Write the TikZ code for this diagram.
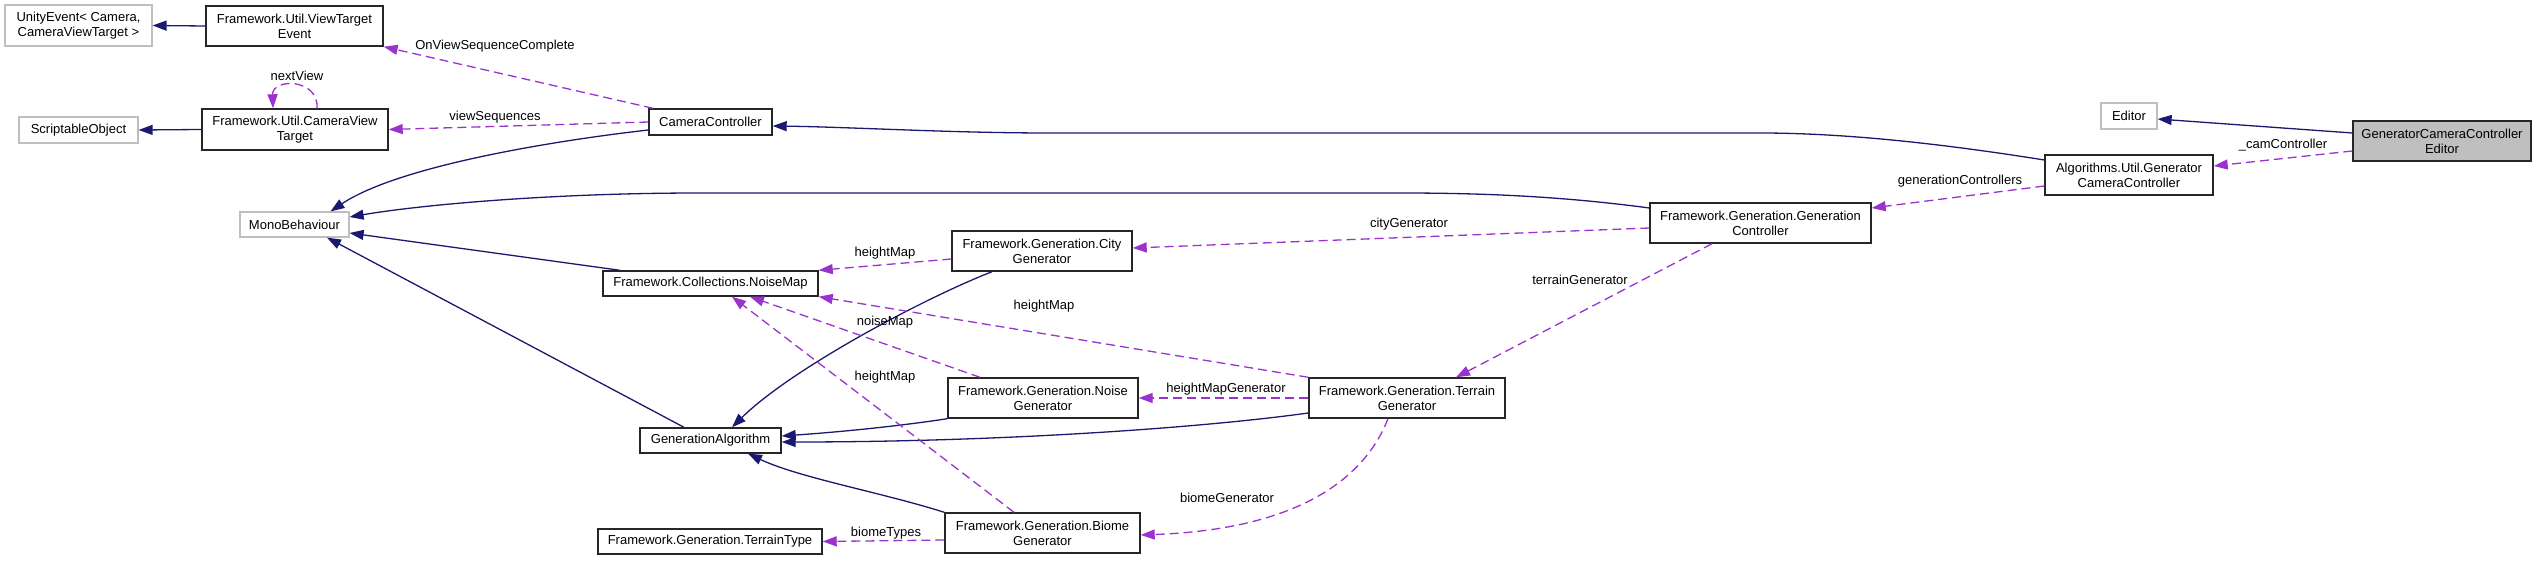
\documentclass[tikz,border=0pt]{standalone}
\usepackage{fontspec}
\setmainfont{Liberation Sans}
\usepackage{tikz}
\usetikzlibrary{arrows.meta,positioning}
\definecolor{inhblue}{RGB}{25,25,112}
\definecolor{usepurple}{RGB}{154,50,205}
\definecolor{extgray}{RGB}{191,191,191}

\begin{document}
\begin{tikzpicture}[x=1pt,y=-1pt,
      font=\fontsize{13}{15}\selectfont,
      >={Triangle[length=14pt,width=10pt]},
      klass/.style={rectangle,draw=black!85,line width=1.4pt,inner sep=0pt,align=center,minimum height=40pt},
      klassone/.style={klass,minimum height=25pt},
      extklass/.style={klass,draw=extgray,line width=1.2pt},
      inh/.style={->,draw=inhblue,line width=1.3pt},
      dep/.style={->,draw=usepurple,line width=1.3pt,dash pattern=on 9pt off 5pt},
      lbl/.style={inner sep=0pt}]
			\useasboundingbox (0,0) rectangle (2537,561);
			\node[extklass,minimum width=147pt,minimum height=41pt] (unity) at (78.5,25.5) {UnityEvent< Camera,\\CameraViewTarget >};
			\node[klass,minimum width=177pt] (vte) at (294.5,26) {Framework.Util.ViewTarget\\Event};
			\node[extklass,minimum width=119pt,minimum height=26pt] (so) at (78.5,130) {ScriptableObject};
			\node[klass,minimum width=186pt,minimum height=41pt] (cvt) at (295,129.5) {Framework.Util.CameraView\\Target};
			\node[klassone,minimum width=123pt,minimum height=26pt] (camctrl) at (710.5,122) {CameraController};
			\node[extklass,minimum width=109pt,minimum height=25pt] (mono) at (294.5,224.5) {MonoBehaviour};
			\node[klassone,minimum width=215pt] (noisemap) at (710.5,283.5) {Framework.Collections.NoiseMap};
			\node[klassone,minimum width=141pt] (genalg) at (710.5,440.5) {GenerationAlgorithm};
			\node[klassone,minimum width=224pt] (terraintype) at (710,541.5) {Framework.Generation.TerrainType};
			\node[klass,minimum width=180pt] (city) at (1042,251) {Framework.Generation.City\\Generator};
			\node[klass,minimum width=190pt] (noise) at (1043,398) {Framework.Generation.Noise\\Generator};
			\node[klass,minimum width=195pt] (biome) at (1042.5,533) {Framework.Generation.Biome\\Generator};
			\node[klass,minimum width=196pt] (terrain) at (1407,398) {Framework.Generation.Terrain\\Generator};
			\node[klass,minimum width=221pt] (genctrl) at (1760.5,223) {Framework.Generation.Generation\\Controller};
			\node[klass,minimum width=168pt] (augcc) at (2129,175) {Algorithms.Util.Generator\\CameraController};
			\node[extklass,minimum width=56pt,minimum height=26pt] (editor) at (2129,116) {Editor};
			\node[klass,fill=extgray,minimum width=178pt] (gcce) at (2442,141) {GeneratorCameraController\\Editor};
			\path
				(vte.west) edge[inh] (unity.east)
				(cvt.west) edge[inh] (so.east)
				(noisemap.north) ++(-90.5,0) edge[inh] ([yshift=-8.5pt]mono.east)
				(genalg.north) ++(-26.5,0) edge[inh] ([xshift=32.5pt]mono.south)
				([yshift=8pt]gcce.west) edge[inh] ([yshift=-3pt]editor.east);
			\draw[inh] ([yshift=-8pt]camctrl.west) .. controls (560,140) and (400,165) .. ([xshift=36pt]mono.north);
			\draw[inh] ([yshift=15pt]genctrl.west) .. controls (1560,196) and (1480,193) .. (1400,193) -- (700,193) .. controls (550,193) and (420,205) .. ([yshift=7.5pt]mono.east);
			\draw[inh] ([yshift=15pt]augcc.west) .. controls (1950,145) and (1850,133) .. (1760,133) -- (1050,133) .. controls (950,133) and (850,127) .. ([yshift=-4pt]camctrl.east);
			\draw[inh] ([xshift=-50pt]city.south) .. controls (920,300) and (790,370) .. ([xshift=21.5pt]genalg.north);
			\draw[inh] (noise.south west) .. controls (900,426) and (840,432) .. ([yshift=4.5pt]genalg.east);
			\draw[inh] ([yshift=-15pt]terrain.west) .. controls (1200,428) and (1000,442) .. ([yshift=-1.5pt]genalg.east);
			\draw[inh] (biome.north west) .. controls (880,492) and (800,478) .. ([xshift=37.5pt]genalg.south);
			\draw[dep] ([xshift=-57.5pt]camctrl.north) -- (vte.south east) node[lbl,at={(495,46)}] (lseq) {OnViewSequenceComplete};
			\draw[dep] (camctrl.west) -- (cvt.east) node[lbl,at={(495,117)}] (lviews) {viewSequences};
			\draw[dep] ([yshift=-10pt]gcce.west) -- ([yshift=9pt]augcc.east) node[lbl,at={(2283,145)}] (lcam) {\_camController};
			\draw[dep] ([yshift=-11pt]augcc.west) -- ([yshift=15pt]genctrl.east) node[lbl,at={(1960,181)}] (lgenctrl) {generationControllers};
			\draw[dep] ([yshift=-5pt]genctrl.west) -- ([yshift=3pt]city.east) node[lbl,at={(1409,224)}] (lcity) {cityGenerator};
			\draw[dep] ([xshift=-48.5pt]genctrl.south) -- ([xshift=49pt]terrain.north) node[lbl,at={(1580,280)}] (lterrain) {terrainGenerator};
			\draw[dep] (terrain.west) -- (noise.east) node[lbl,at={(1226,389)}] (lhmg) {heightMapGenerator};
			\draw[dep] (terrain.north west) -- (noisemap.south east) node[lbl,at={(1044,306)}] (lhmt) {heightMap};
			\draw[dep] ([yshift=-8pt]city.west) -- (noisemap.north east) node[lbl,at={(885,253)}] (lhmc) {heightMap};
			\draw[dep] ([xshift=-63pt]noise.north) -- ([xshift=39.5pt]noisemap.south) node[lbl,at={(885,322)}] (lnoise) {noiseMap};
			\draw[dep] ([xshift=-28.5pt]biome.north) -- ([xshift=21.5pt]noisemap.south) node[lbl,at={(885,377)}] (lhmb) {heightMap};
			\draw[dep] ([yshift=-7pt]biome.west) -- (terraintype.east) node[lbl,at={(886,533)}] (lbt) {biomeTypes};
			\draw[dep] ([xshift=-19pt]terrain.south) .. controls (1360,490) and (1280,530) .. ([yshift=-2pt]biome.east)
				node[lbl,at={(1227,498)}] (lbiome) {biomeGenerator};
			\draw[dep] ([xshift=22pt]cvt.north) .. controls (319,78) and (272,78) .. ([xshift=-22pt]cvt.north)
				node[lbl,at={(297,76)}] (lnext) {nextView};
		\end{tikzpicture}
\end{document}
